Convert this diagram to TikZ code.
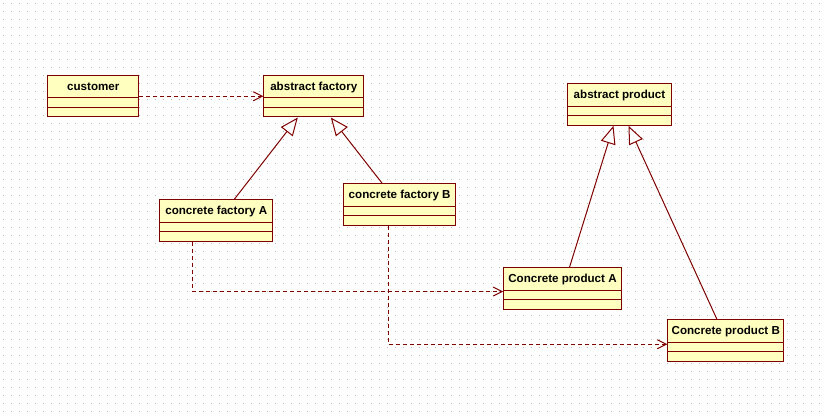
\documentclass[tikz,border=0pt]{standalone}
\usepackage{fontspec}
\setmainfont{Liberation Sans}
\usetikzlibrary{shapes.multipart,arrows.meta,calc}
\definecolor{umlred}{RGB}{128,0,0}
\definecolor{umlyellow}{RGB}{255,255,192}
\begin{document}
\begin{tikzpicture}[x=1pt,y=-1pt,
        classbox/.style={rectangle split, rectangle split parts=3, draw=umlred, fill=umlyellow,
            line width=1pt, inner xsep=0pt, inner ysep=0pt, anchor=north west,
            rectangle split empty part height=8.5pt, rectangle split empty part depth=0pt,
            font=\fontsize{11.6}{13}\selectfont\bfseries},
        dep/.style={draw=umlred, line width=1pt, dash pattern=on 4pt off 3pt,
            -{Straight Barb[length=9pt,width=9pt]}},
        gen/.style={draw=umlred, line width=1pt,
            -{Triangle[length=18pt,width=15pt,fill=white]}}]
                \useasboundingbox[fill=white] (0,0) rectangle (825,417);
                \foreach \y in {3,11,...,417}
                    \draw[gray!55, line width=1pt, dash pattern=on 1pt off 7pt] (3,\y+0.5) -- (825,\y+0.5);
                \node[classbox, minimum width=91pt] (customer) at (47.3,75) {\rule[-7pt]{0pt}{21.5pt}customer};
                \node[classbox, minimum width=100pt] (absfac) at (263.3,75) {\rule[-7pt]{0pt}{21.5pt}abstract factory};
                \node[classbox, minimum width=113pt] (facA) at (159.3,199.3) {\rule[-7pt]{0pt}{21.5pt}concrete factory A};
                \node[classbox, minimum width=111.7pt] (facB) at (343.3,183.3) {\rule[-7pt]{0pt}{21.5pt}concrete factory B};
                \node[classbox, minimum width=103.4pt] (absprod) at (567.3,83.3) {\rule[-7pt]{0pt}{21.5pt}abstract product};
                \node[classbox, minimum width=117.4pt] (prodA) at (503.3,267.3) {\rule[-7pt]{0pt}{21.5pt}Concrete product A};
                \node[classbox, minimum width=116pt] (prodB) at (667.3,319) {\rule[-7pt]{0pt}{21.5pt}Concrete product B};
                \draw[dep] (customer) -- (absfac);
                \draw[gen] ([xshift=18pt]facA.north) -- ([xshift=-16pt]absfac.south);
                \draw[gen] ([xshift=-17.5pt]facB.north) -- ([xshift=17pt]absfac.south);
                \draw[gen] ([xshift=7pt]prodA.north) -- ([xshift=-6pt]absprod.south);
                \draw[gen] ([xshift=-9pt]prodB.north) -- ([xshift=9pt]absprod.south);
                \draw[dep] ([xshift=-23.5pt]facA.south) |- ([yshift=-3pt]prodA.west);
                \draw[dep] ([xshift=-11pt]facB.south) |- ([yshift=-4pt]prodB.west);
            \end{tikzpicture}
\end{document}
